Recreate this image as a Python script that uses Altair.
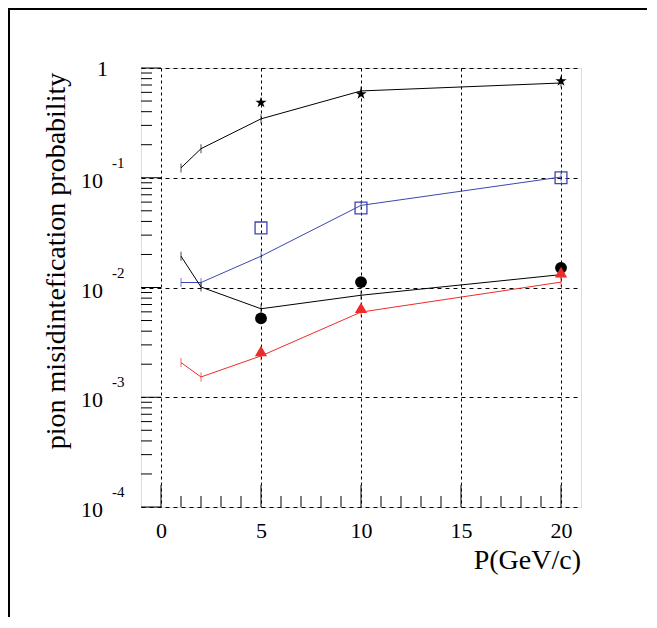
import altair as alt
import pandas as pd

# ---- data ----
P_LINE = [1, 2, 5, 10, 20]
LINE_TOP = [0.123, 0.184, 0.344, 0.618, 0.73]       # black, upper
LINE_BLUE = [0.0111, 0.0111, 0.0193, 0.056, 0.1015]  # blue
LINE_MID = [0.0193, 0.0101, 0.0064, 0.0085, 0.0131]  # black, lower
LINE_RED = [0.00207, 0.00153, 0.00238, 0.00597, 0.0112]  # red

P_PTS = [5, 10, 20]
STAR = [0.484, 0.58, 0.76]
SQUARE = [0.0349, 0.053, 0.1]
CIRCLE = [0.00523, 0.0112, 0.0151]
TRIANGLE = [0.00264, 0.00654, 0.0138]

X_MAJOR = [0, 5, 10, 15, 20]
X_MINOR = [i for i in range(1, 20) if i % 5 != 0]
DECADES = [1e-4, 1e-3, 1e-2, 1e-1, 1.0]
EXPONENTS = ["-4", "-3", "-2", "-1"]
Y_MINOR = [k * d for d in DECADES[:-1] for k in range(2, 10)]

BLUE = "#3c46b0"
RED = "#ee2a2a"
FONT = "Liberation Serif"
STAR_PATH = ("M0,-1L0.225,-0.309L0.951,-0.309L0.363,0.118L0.588,0.809L0,0.382"
             "L-0.588,0.809L-0.363,0.118L-0.951,-0.309L-0.225,-0.309Z")

W, H = 440, 439
PAD_L, PAD_T, PAD_R, PAD_B = 133, 60, 66, 110

x_scale = alt.Scale(domain=[-1, 21], nice=False, zero=False)
y_scale = alt.Scale(type="log", domain=[1e-4, 1], nice=False)
x_axis = alt.Axis(values=X_MAJOR, grid=True, gridDash=[3, 3], gridColor="black",
                  gridOpacity=1, gridWidth=1, ticks=False, domain=False,
                  labelFont=FONT, labelFontSize=22, labelColor="black",
                  labelPadding=13, labelFlush=False, title=None)
y_axis = alt.Axis(values=DECADES, grid=True, gridDash=[4, 4], gridColor="black",
                  gridOpacity=1, gridWidth=1, ticks=False, domain=False,
                  labels=False, title=None)
X = alt.X("p:Q", scale=x_scale, axis=x_axis)
Y = alt.Y("v:Q", scale=y_scale, axis=y_axis)

layers = []

# series lines with small vertical error ticks
for vals, col in [(LINE_TOP, "black"), (LINE_BLUE, BLUE), (LINE_MID, "black"), (LINE_RED, RED)]:
    df = pd.DataFrame({"p": P_LINE, "v": vals})
    layers.append(alt.Chart(df).mark_line(color=col, strokeWidth=1).encode(x=X, y=Y))
    layers.append(alt.Chart(df).mark_tick(color=col, orient="vertical", size=9,
                                          thickness=1).encode(x=X, y=Y))

# markers
layers.append(alt.Chart(pd.DataFrame({"p": P_PTS, "v": STAR})).mark_point(
    shape=STAR_PATH, filled=True, color="black", size=140, opacity=1).encode(x=X, y=Y))
layers.append(alt.Chart(pd.DataFrame({"p": P_PTS, "v": SQUARE})).mark_point(
    shape="square", filled=False, color=BLUE, size=140, strokeWidth=1.3, opacity=1).encode(x=X, y=Y))
layers.append(alt.Chart(pd.DataFrame({"p": P_PTS, "v": CIRCLE})).mark_point(
    shape="circle", filled=True, color="black", size=140, opacity=1).encode(x=X, y=Y))
layers.append(alt.Chart(pd.DataFrame({"p": P_PTS, "v": TRIANGLE})).mark_point(
    shape="triangle-up", filled=True, color=RED, size=150, opacity=1).encode(x=X, y=Y))

# inward axis ticks
layers.append(alt.Chart(pd.DataFrame({"p": X_MAJOR})).mark_rule(color="black", strokeWidth=1).encode(
    x=X, y=alt.value(H), y2=alt.value(H - 22)))
layers.append(alt.Chart(pd.DataFrame({"p": X_MINOR})).mark_rule(color="black", strokeWidth=1).encode(
    x=X, y=alt.value(H), y2=alt.value(H - 11)))
layers.append(alt.Chart(pd.DataFrame({"v": DECADES})).mark_rule(color="black", strokeWidth=1).encode(
    y=Y, x=alt.value(0), x2=alt.value(20)))
layers.append(alt.Chart(pd.DataFrame({"v": Y_MINOR})).mark_rule(color="black", strokeWidth=1).encode(
    y=Y, x=alt.value(0), x2=alt.value(11)))

# y tick labels with superscript exponents
lab = pd.DataFrame({"v": DECADES[:-1], "t": ["10"] * 4, "e": EXPONENTS})
layers.append(alt.Chart(lab).mark_text(font=FONT, fontSize=22, color="black", align="right",
                                       baseline="alphabetic", dy=10).encode(
    y=Y, x=alt.value(-38), text="t:N"))
layers.append(alt.Chart(lab).mark_text(font=FONT, fontSize=15, color="black", align="left",
                                       baseline="alphabetic", dy=-10).encode(
    y=Y, x=alt.value(-29), text="e:N"))
layers.append(alt.Chart(pd.DataFrame({"v": [1.0], "t": ["1"]})).mark_text(
    font=FONT, fontSize=22, color="black", align="right", baseline="alphabetic", dy=8).encode(
    y=Y, x=alt.value(-33), text="t:N"))

one = pd.DataFrame({"a": [0]})
# axis titles
layers.append(alt.Chart(one).mark_text(font=FONT, fontSize=28, color="black", align="center",
                                       baseline="alphabetic", angle=270,
                                       text="pion misidintefication probability").encode(
    x=alt.value(-76), y=alt.value(193)))
layers.append(alt.Chart(one).mark_text(font=FONT, fontSize=28, color="black", align="right",
                                       baseline="alphabetic", text="P(GeV/c)").encode(
    x=alt.value(W), y=alt.value(501)))

# outer canvas frame (left and top edges)
layers.append(alt.Chart(one).mark_rule(color="black", strokeWidth=2).encode(
    x=alt.value(-PAD_L + 1), y=alt.value(-PAD_T), y2=alt.value(H + PAD_B)))
layers.append(alt.Chart(one).mark_rule(color="black", strokeWidth=2).encode(
    y=alt.value(-PAD_T + 1), x=alt.value(-PAD_L), x2=alt.value(W + PAD_R)))

chart = alt.layer(*layers).properties(
    width=W, height=H,
    autosize=alt.AutoSizeParams(type="none"),
    padding={"left": PAD_L, "top": PAD_T, "right": PAD_R, "bottom": PAD_B},
).configure_view(stroke="black", strokeWidth=2).configure(background="white")

chart.save("out.html", embed_options={"renderer": "svg", "actions": False})
